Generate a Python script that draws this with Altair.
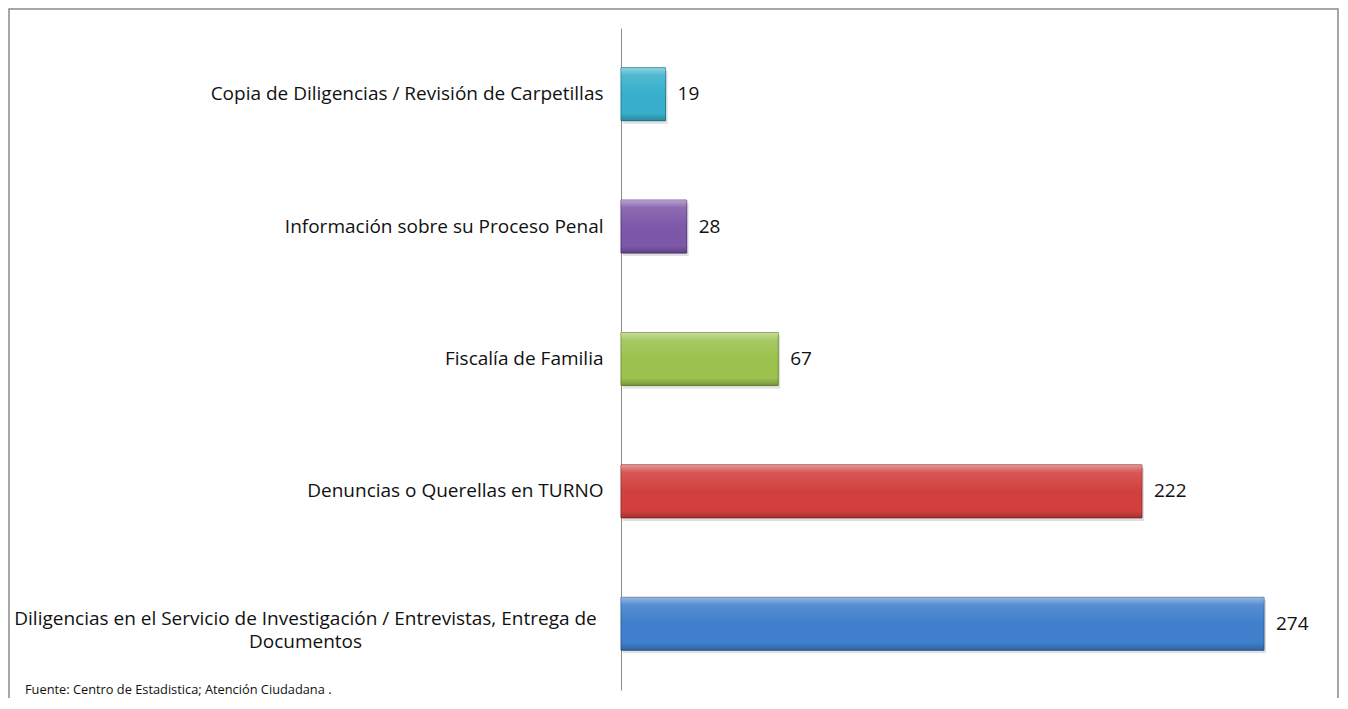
import altair as alt
import pandas as pd

categories = [
    "Copia de Diligencias / Revisión de Carpetillas",
    "Información sobre su Proceso Penal",
    "Fiscalía de Familia",
    "Denuncias o Querellas en TURNO",
    "Diligencias en el Servicio de Investigación / Entrevistas, Entrega de|Documentos",
]
values = [19, 28, 67, 222, 274]
fill_colors = ["#37AFCB", "#7D58A8", "#9CC24E", "#D2403E", "#3F7FCB"]
stroke_colors = ["#227F96", "#553A7A", "#6F8E33", "#94302E", "#2D5E99"]
source_note = "Fuente: Centro de Estadistica; Atención Ciudadana ."

df = pd.DataFrame({"cat": categories, "val": values})

long_label = categories[4]
font = "Open Sans"
fsize = 19

y_enc = alt.Y(
    "cat:N",
    sort=categories,
    title=None,
    scale=alt.Scale(paddingInner=0.6, paddingOuter=0.3),
    axis=alt.Axis(
        ticks=False,
        grid=False,
        domainColor="#8a8a8a",
        domainWidth=1,
        labelFont=font,
        labelFontSize=fsize,
        labelColor="#111111",
        labelLimit=0,
        labelLineHeight=23,
        labelExpr="split(datum.label, '|')",
        labelAlign={"condition": {"test": f"datum.value == '{long_label}'", "value": "center"}, "value": "right"},
        labelPadding={"condition": {"test": f"datum.value == '{long_label}'", "value": 316}, "value": 18},
        labelOffset={"condition": {"test": f"datum.value == '{long_label}'", "value": -5}, "value": 0},
    ),
)
x_enc = alt.X("val:Q", axis=None, scale=alt.Scale(domain=[0, 300], nice=False))

base = alt.Chart(df)

shadow = base.mark_bar(color="#000000", opacity=0.12, yOffset=3, xOffset=2).encode(x=x_enc, y=y_enc)

bars = base.mark_bar(strokeWidth=1).encode(
    x=x_enc,
    y=y_enc,
    fill=alt.Fill("cat:N", scale=alt.Scale(domain=categories, range=fill_colors), legend=None),
    stroke=alt.Stroke("cat:N", scale=alt.Scale(domain=categories, range=stroke_colors), legend=None),
)

gloss = base.mark_bar(
    color=alt.Gradient(
        gradient="linear",
        x1=0, y1=0, x2=0, y2=1,
        stops=[
            alt.GradientStop(offset=0, color="rgba(255,255,255,0.45)"),
            alt.GradientStop(offset=0.14, color="rgba(255,255,255,0.12)"),
            alt.GradientStop(offset=0.5, color="rgba(255,255,255,0.0)"),
            alt.GradientStop(offset=0.86, color="rgba(0,0,0,0.0)"),
            alt.GradientStop(offset=1, color="rgba(0,0,0,0.22)"),
        ],
    )
).encode(x=x_enc, y=y_enc)

labels = base.mark_text(align="left", baseline="middle", dx=12, font=font, fontSize=fsize, color="#111111").encode(
    x=x_enc, y=y_enc, text="val:Q"
)

note = alt.Chart(alt.Data(values=[{"t": source_note}])).mark_text(
    align="left", baseline="middle", font=font, fontSize=12.8, color="#111111"
).encode(x=alt.value(-596), y=alt.value(662), text="t:N")

border = alt.Chart(alt.Data(values=[{}])).mark_rect(
    fill=None, stroke="#8a8a8a", strokeWidth=1.5, clip=False
).encode(x=alt.value(-612), x2=alt.value(717), y=alt.value(-19), y2=alt.value(700))

chart = alt.layer(border, shadow, bars, gloss, labels, note).properties(
    width=704,
    height=662,
    background="white",
    autosize=alt.AutoSizeParams(type="none"),
    padding={"left": 613, "top": 20, "right": 14, "bottom": 8},
).configure_view(stroke=None)

chart.save("out.html", embed_options={"renderer": "svg", "actions": False})
